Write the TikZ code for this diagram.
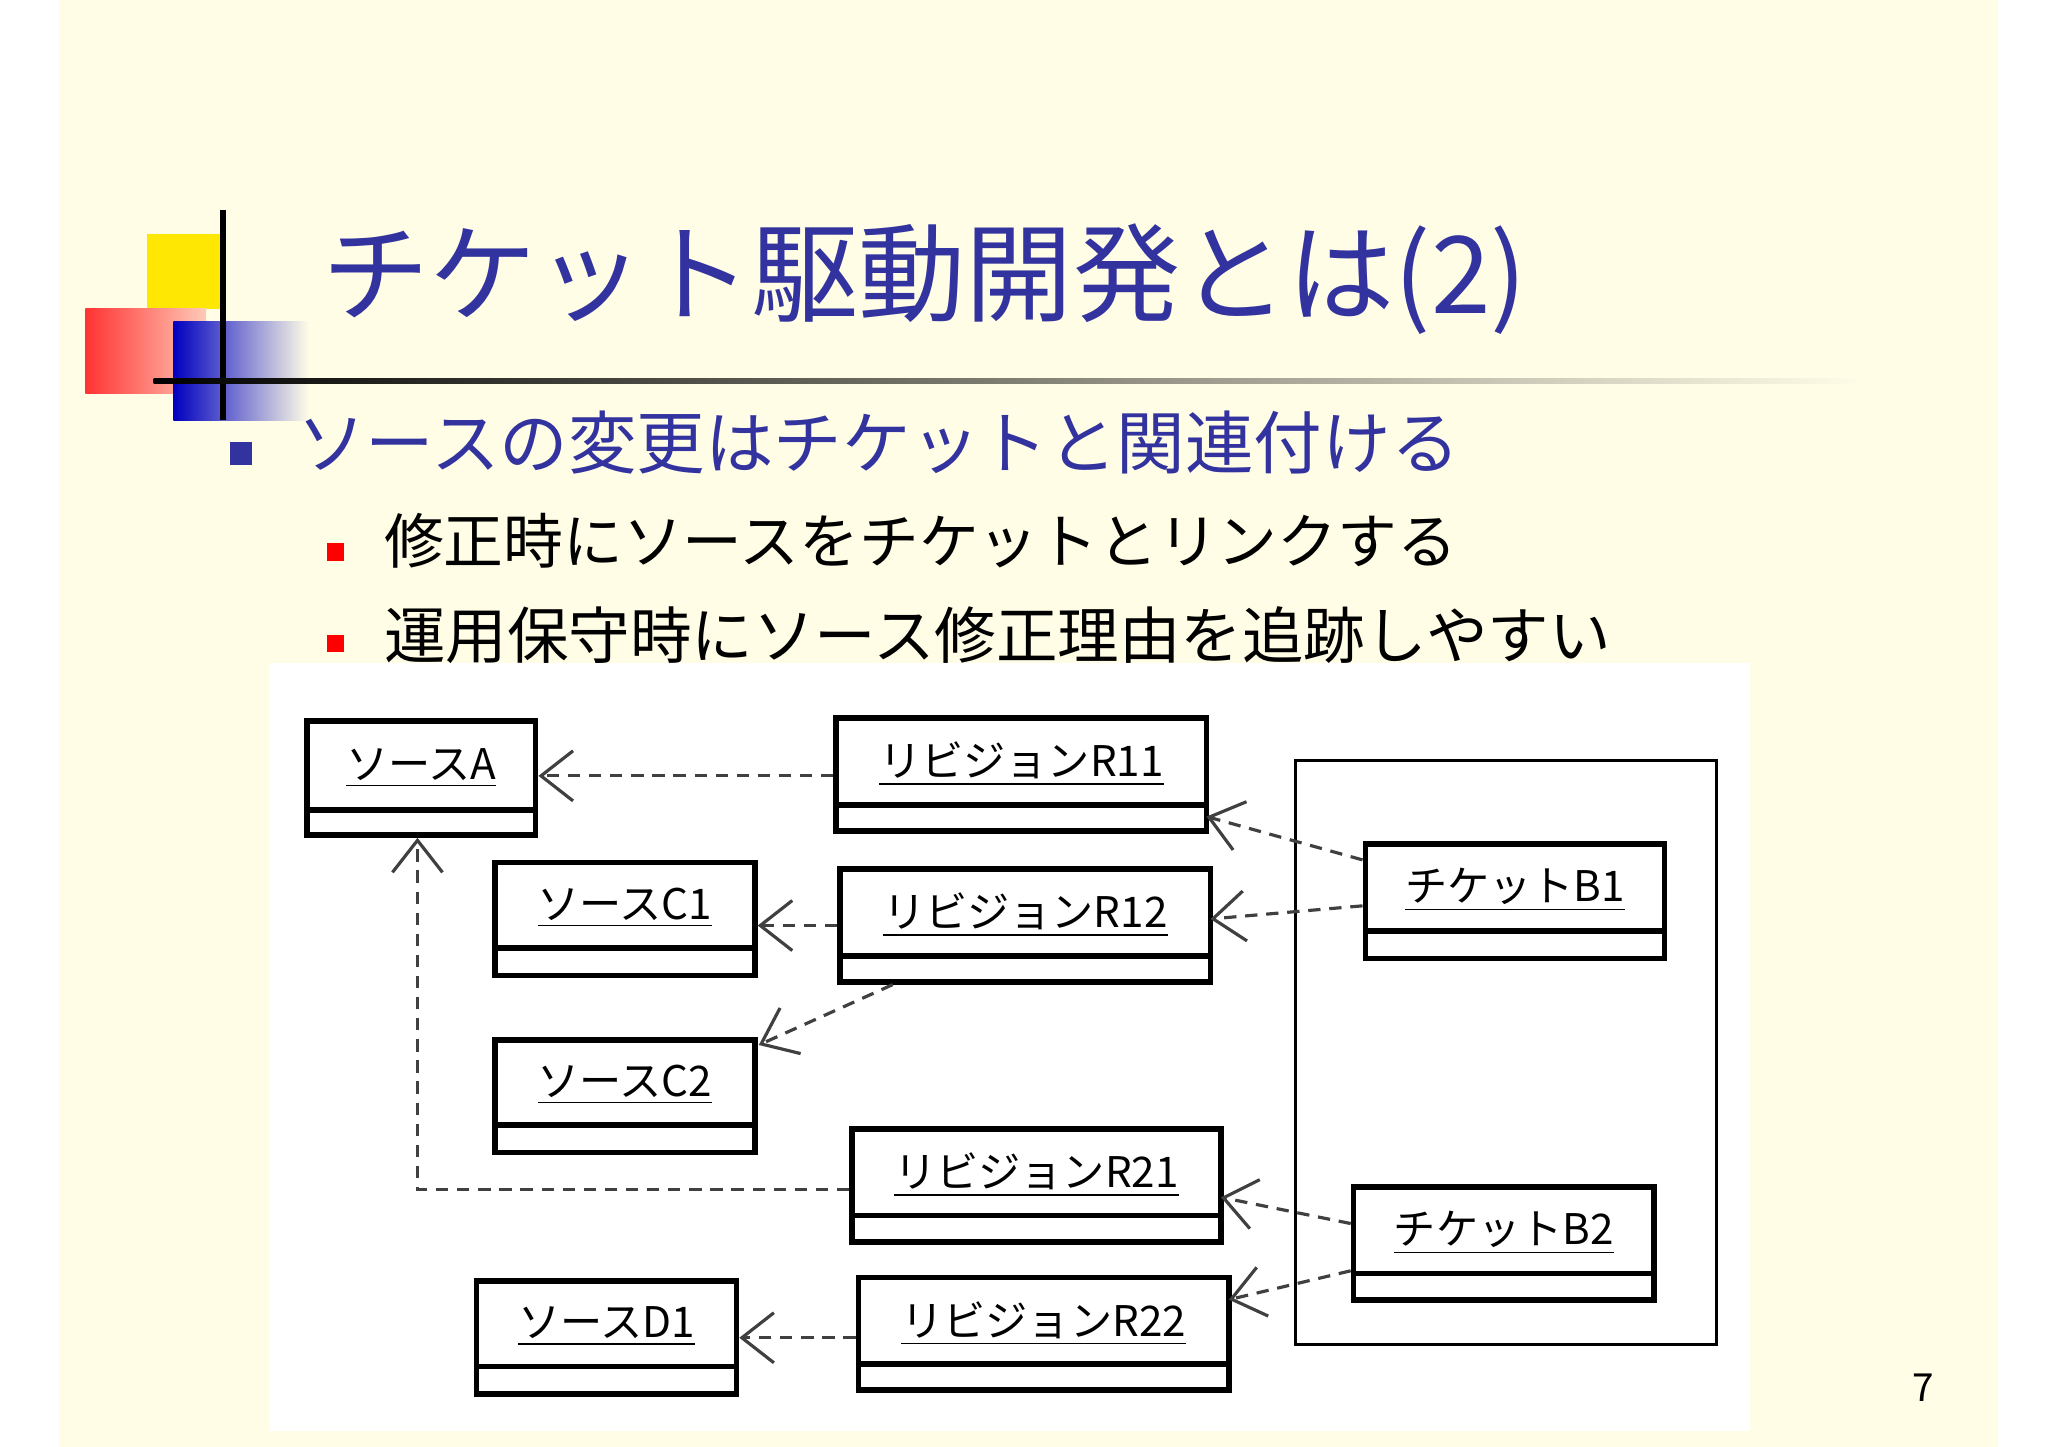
\documentclass[tikz,border=0pt]{standalone}
\usepackage{fontspec}
\setmainfont{Noto Sans CJK JP}
\usetikzlibrary{arrows.meta}
\definecolor{bg}{HTML}{FFFDE6}
\definecolor{ttl}{HTML}{33339F}
\def\u{0.013128cm}
\tikzset{
 box/.style={draw=black,line width=1.6pt,fill=white,inner sep=0pt},
 lbl/.style={font=\fontsize{12}{14}\selectfont,inner sep=0pt},
 dep/.style={draw=black!75,line width=0.9pt,dash pattern=on 3.5pt off 2.5pt,-{Straight Barb[length=3.2mm,width=5mm,line width=0.9pt]}}
}
\newcommand{\umlbox}[7]{%
 \node[box,minimum width={(#4-#2)*\u},minimum height={(#5-#3)*\u}] (#1) at ({(#2+#4)/2},{(#3+#5)/2}) {};
 \draw[line width=1.6pt] (#2,#6) -- (#4,#6);
 \node[lbl] (#1t) at ({(#2+#4)/2},{(#3+#6)/2+2}) {\underline{#7}};}
\begin{document}
\begin{tikzpicture}[x=0.013128cm,y=-0.013128cm]
\useasboundingbox (0,0) rectangle (1560,1102);
\fill[white] (0,0) rectangle (1560,1102);
\fill[bg] (45,0) rectangle (1522,1102);
% decoration
\fill[yellow!90!orange] (112,178) rectangle (170,235);
\shade[left color=red!80,right color=red!20!bg] (65,235) rectangle (157,300);
\shade[left color=blue!75!black,right color=bg] (132,245) rectangle (235,320);
\draw[line width=1.6pt] (170,160) -- (170,320);
\shade[left color=black,right color=bg] (117,288) rectangle (1420,292);
% texts
\node[anchor=west,text=ttl,font=\fontsize{30.5}{33}\selectfont,inner sep=0] (title) at (245,213) {チケット駆動開発とは(2)};
\fill[ttl] (175,337) rectangle (192,354);
\node[anchor=west,text=ttl,font=\fontsize{19.5}{22}\selectfont,inner sep=0] (b1) at (226,337) {ソースの変更はチケットと関連付ける};
\fill[red] (249,414) rectangle (262,427);
\node[anchor=west,font=\fontsize{17}{20}\selectfont,inner sep=0] (b2) at (292,412) {修正時にソースをチケットとリンクする};
\fill[red] (249,484) rectangle (262,497);
\node[anchor=west,font=\fontsize{17.5}{20}\selectfont,inner sep=0] (b3) at (292,484) {運用保守時にソース修正理由を追跡しやすい};
\node[font=\fontsize{11}{13}\selectfont] (pg) at (1465,1057) {7};
% panel
\fill[white] (205,505) rectangle (1333,1090);
\node[draw=black,line width=0.8pt,minimum width={321*\u},minimum height={445*\u}] (frame) at (1147,801.5) {};
\umlbox{A}{234}{549}{408}{636}{617}{ソースA}
\umlbox{R11}{637}{547}{919}{633}{613}{リビジョンR11}
\umlbox{C1}{377}{657}{575}{743}{722}{ソースC1}
\umlbox{R12}{640}{662}{922}{748}{728}{リビジョンR12}
\umlbox{C2}{377}{792}{575}{878}{857}{ソースC2}
\umlbox{R21}{649}{860}{930}{946}{926}{リビジョンR21}
\umlbox{D1}{363}{976}{561}{1062}{1041}{ソースD1}
\umlbox{R22}{654}{973}{936}{1059}{1039}{リビジョンR22}
\umlbox{B1}{1040}{643}{1268}{730}{709}{チケットB1}
\umlbox{B2}{1031}{904}{1260}{990}{970}{チケットB2}
\coordinate (corner) at (318,906);
\draw[dep] (R11.west|-0,591) -- (A.east|-0,591);
\draw[dep] (R12.west|-0,705) -- (C1.east|-0,705);
\draw[dep] (680,750) -- (578,796);
\draw[dep] (R21.west|-0,906) -- (corner) -- (A.south-|corner);
\draw[dep] (R22.west|-0,1019) -- (D1.east|-0,1019);
\draw[dep] (B1.west|-0,655) -- (919,622);
\draw[dep] (B1.west|-0,690) -- (922,700);
\draw[dep] (B2.west|-0,932) -- (930,912);
\draw[dep] (B2.west|-0,968) -- (936,990);
\end{tikzpicture}
\end{document}
